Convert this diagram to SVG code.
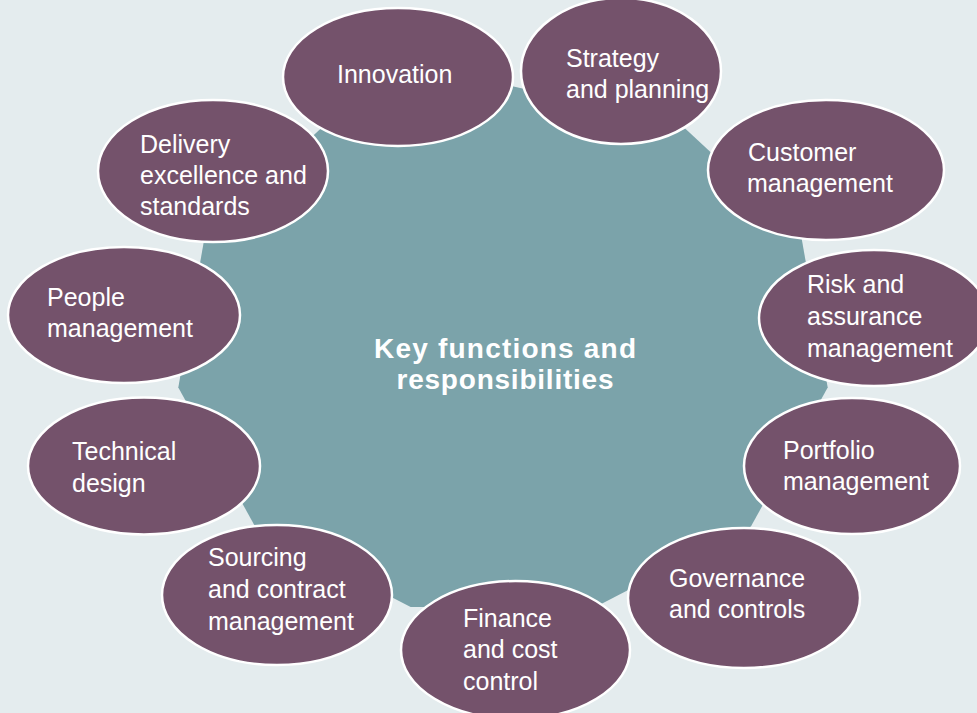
<svg xmlns="http://www.w3.org/2000/svg" width="977" height="713" viewBox="0 0 977 713">
  <style>
    .bg { fill: #e4ecee; }
    .hub { fill: #7ba3aa; }
    .node ellipse { fill: #74526b; stroke: #ffffff; stroke-width: 2.5; }
    .node text { fill: #ffffff; font-family: "Liberation Sans", Arial, sans-serif; font-size: 25px; }
    .title { fill: #ffffff; font-family: "Liberation Sans", Arial, sans-serif; font-size: 28px; font-weight: bold; text-anchor: middle; }
  </style>
  <rect class="bg" x="0" y="0" width="977" height="713"/>

  <!-- central hub: 11-sided polygon -->
  <g id="hub">
    <polygon class="hub" points="503,84 680.3,124 801.3,236.4 827.7,387.6 750.9,526.5 595.4,607 410.6,607 255.1,526.5 178.3,387.6 204.7,236.4 325.7,124"/>
    <text class="title" x="505" y="358" textLength="262" lengthAdjust="spacing">Key functions and</text>
    <text class="title" x="505" y="389" textLength="217" lengthAdjust="spacing">responsibilities</text>
  </g>

  <g id="connectors"></g>

  <g id="innovation" class="node">
    <ellipse cx="398" cy="77" rx="115" ry="69"/>
    <text x="337" y="83">Innovation</text>
  </g>
  <g id="strategy" class="node">
    <ellipse cx="621" cy="71" rx="100" ry="73"/>
    <text x="566" y="67">Strategy</text>
    <text x="566" y="98">and planning</text>
  </g>
  <g id="customer" class="node">
    <ellipse cx="826" cy="170" rx="118" ry="70"/>
    <text x="748" y="161">Customer</text>
    <text x="747" y="192">management</text>
  </g>
  <g id="risk" class="node">
    <ellipse cx="874" cy="318" rx="115" ry="68"/>
    <text x="807" y="293">Risk and</text>
    <text x="807" y="325">assurance</text>
    <text x="807" y="357">management</text>
  </g>
  <g id="portfolio" class="node">
    <ellipse cx="852" cy="466" rx="108" ry="68"/>
    <text x="783" y="459">Portfolio</text>
    <text x="783" y="490">management</text>
  </g>
  <g id="governance" class="node">
    <ellipse cx="744" cy="598" rx="116" ry="70"/>
    <text x="669" y="587">Governance</text>
    <text x="669" y="618">and controls</text>
  </g>
  <g id="finance" class="node">
    <ellipse cx="515.5" cy="650" rx="114.5" ry="69"/>
    <text x="463" y="627">Finance</text>
    <text x="463" y="658">and cost</text>
    <text x="463" y="690">control</text>
  </g>
  <g id="sourcing" class="node">
    <ellipse cx="277" cy="595" rx="115" ry="70"/>
    <text x="208" y="566">Sourcing</text>
    <text x="208" y="598">and contract</text>
    <text x="208" y="630">management</text>
  </g>
  <g id="technical" class="node">
    <ellipse cx="144" cy="466" rx="116" ry="68.5"/>
    <text x="72" y="460">Technical</text>
    <text x="72" y="492">design</text>
  </g>
  <g id="people" class="node">
    <ellipse cx="124" cy="315" rx="116" ry="68"/>
    <text x="47" y="306">People</text>
    <text x="47" y="337">management</text>
  </g>
  <g id="delivery" class="node">
    <ellipse cx="213" cy="171" rx="115" ry="71"/>
    <text x="140" y="153">Delivery</text>
    <text x="140" y="184">excellence and</text>
    <text x="140" y="215">standards</text>
  </g>
</svg>
